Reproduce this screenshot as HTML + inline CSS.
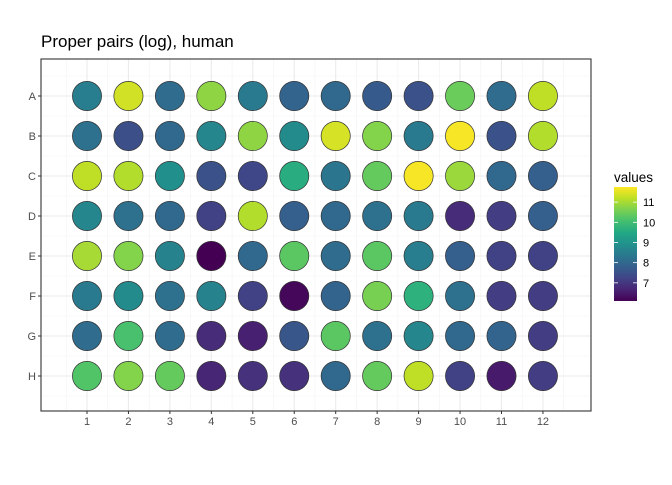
<!DOCTYPE html>
<html><head><meta charset="utf-8"><style>
body{margin:0;background:#fff;font-family:"Liberation Sans",sans-serif}
</style></head><body>
<svg id="c" width="672" height="480" xmlns="http://www.w3.org/2000/svg">
<defs><linearGradient id="vg" x1="0" y1="1" x2="0" y2="0"></linearGradient></defs>
<text x="41" y="47" font-size="17" fill="#000">Proper pairs (log), human</text>
<g id="grid"></g><g id="marks"></g><g id="axes"></g><g id="legend"></g>
</svg>
<script>
const rows=["A","B","C","D","E","F","G","H"];
const cols=[1,2,3,4,5,6,7,8,9,10,11,12];
const rowA=[8.5,11.35,8.1,10.8,8.4,7.9,8.0,7.7,7.5,10.45,8.1,11.2];
const rowB=[8.2,7.45,8.0,8.7,10.8,8.8,11.4,10.7,8.4,11.7,7.5,11.1];
const rowC=[11.2,11.1,8.9,7.5,7.3,9.6,8.3,10.4,11.7,10.9,8.0,7.8];
const rowD=[8.7,8.2,8.0,7.2,11.1,7.8,8.0,8.2,8.4,6.8,7.1,7.8];
const rowE=[11.0,10.7,8.6,6.1,8.0,10.3,8.1,10.3,8.5,7.8,7.2,7.2];
const rowF=[8.4,8.8,8.2,8.6,7.2,6.2,7.9,10.6,9.7,8.2,7.1,7.1];
const rowG=[8.1,10.1,8.1,6.8,6.6,7.6,10.3,8.2,8.7,8.0,7.9,7.1];
const rowH=[10.2,10.7,10.4,6.7,6.9,6.9,8.0,10.4,11.2,7.2,6.5,7.1];
const values=[rowA,rowB,rowC,rowD,rowE,rowF,rowG,rowH];
const legendTicks=[7,8,9,10,11];
const vmin=6.1,vmax=11.75;

const NS="http://www.w3.org/2000/svg";
const vir=["#440154","#482475","#414487","#355f8d","#2a788e","#21918c","#22a884","#44bf70","#7ad151","#bddf26","#fde725"];
function hx(h){return [1,3,5].map(i=>parseInt(h.substr(i,2),16));}
function color(v){let t=Math.max(0,Math.min(1,(v-vmin)/(vmax-vmin)))*10;let i=Math.min(9,Math.floor(t)),f=t-i;
 const a=hx(vir[i]),b=hx(vir[i+1]);return "rgb("+a.map((x,k)=>Math.round(x+(b[k]-x)*f)).join(",")+")";}
const px0=41,px1=591,py0=59,py1=411;
const xs=c=>87+(c-1)*41.45;
const ys=r=>96+r*40;
function el(t,a,p){const e=document.createElementNS(NS,t);for(const k in a)e.setAttribute(k,a[k]);p.appendChild(e);return e;}
const grid=document.getElementById('grid'),marks=document.getElementById('marks'),axes=document.getElementById('axes'),leg=document.getElementById('legend');
const bg=el('rect',{x:px0,y:py0,width:px1-px0,height:py1-py0,fill:'#fff'},grid);


for(let c=0;c<=12;c++){const x=xs(c+0.5);if(x>px0&&x<px1)el('line',{x1:x,x2:x,y1:py0,y2:py1,stroke:'#f2f2f2','stroke-width':0.6},grid);}
for(let r=-1;r<8;r++){const y=ys(r+0.5);if(y>py0&&y<py1)el('line',{x1:px0,x2:px1,y1:y,y2:y,stroke:'#f2f2f2','stroke-width':0.6},grid);}
cols.forEach(c=>el('line',{x1:xs(c),x2:xs(c),y1:py0,y2:py1,stroke:'#ebebeb','stroke-width':1.1},grid));
rows.forEach((r,i)=>el('line',{x1:px0,x2:px1,y1:ys(i),y2:ys(i),stroke:'#ebebeb','stroke-width':1.1},grid));
values.forEach((row,i)=>row.forEach((v,j)=>{
 const c=el('circle',{cx:xs(cols[j]),cy:ys(i),r:14.6,fill:color(v),stroke:'#333','stroke-width':0.7},marks);
 
 
}));
const fr=el('rect',{x:px0,y:py0,width:px1-px0,height:py1-py0,fill:'none',stroke:'#333','stroke-width':1.1},axes);


rows.forEach((r,i)=>{el('line',{x1:px0-3,x2:px0,y1:ys(i),y2:ys(i),stroke:'#333'},axes);
 const t=el('text',{x:px0-5,y:ys(i)+4,'text-anchor':'end','font-size':11,fill:'#4d4d4d'},axes);t.textContent=r;
 
 });
cols.forEach(c=>{el('line',{x1:xs(c),x2:xs(c),y1:py1,y2:py1+3,stroke:'#333'},axes);
 const t=el('text',{x:xs(c),y:py1+14,'text-anchor':'middle','font-size':11,fill:'#4d4d4d'},axes);t.textContent=c;
 
 });
const g=document.getElementById('vg');
vir.forEach((h,i)=>el('stop',{offset:(i*10)+'%','stop-color':h},g));
const lt=el('text',{x:614,y:182,'font-size':13.5,fill:'#000'},leg);lt.textContent='values';


const ly0=187,ly1=301,lx=614,lw=23;
const ly=v=>ly1-(v-vmin)/(vmax-vmin)*(ly1-ly0);
const bar=el('rect',{x:lx,y:ly0,width:lw,height:ly1-ly0,fill:'url(#vg)'},leg);


legendTicks.forEach(v=>{el('line',{x1:lx,x2:lx+4,y1:ly(v),y2:ly(v),stroke:'#fff','stroke-width':0.8},leg);
 el('line',{x1:lx+lw-4,x2:lx+lw,y1:ly(v),y2:ly(v),stroke:'#fff','stroke-width':0.8},leg);
 const t=el('text',{x:lx+lw+6,y:ly(v)+4,'font-size':11,fill:'#000'},leg);t.textContent=v;
 
 });
</script>
</body></html>
